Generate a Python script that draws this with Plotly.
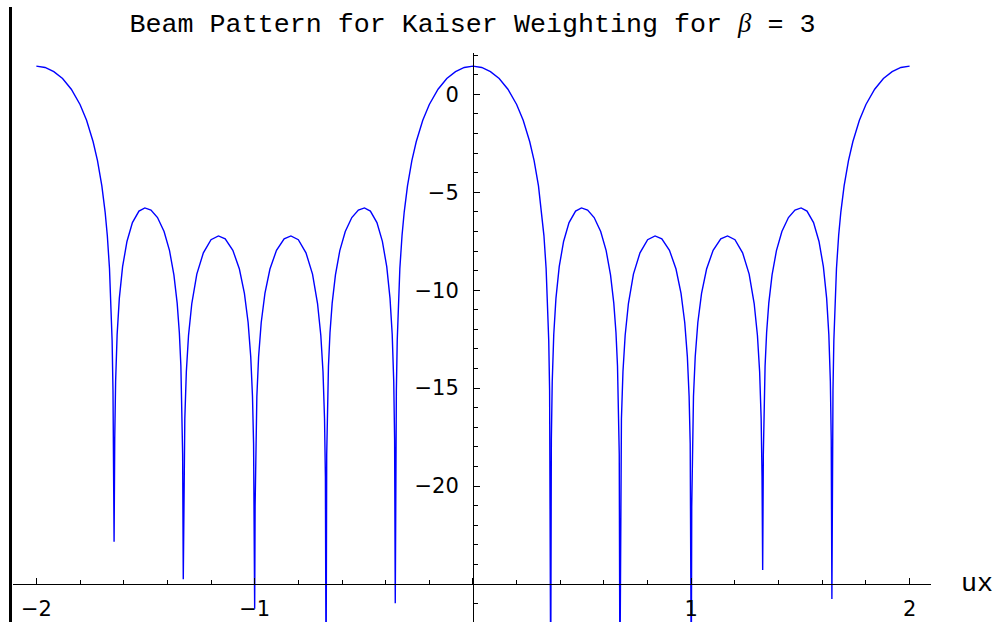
import plotly.graph_objects as go

# Beam pattern samples (ux, level in dB), read lobe by lobe from -2 to 2
ux = [
    # grating lobe at -2
    -2.000, -1.960, -1.920, -1.880, -1.840, -1.800, -1.770, -1.740, -1.720, -1.700,
    -1.685, -1.675, -1.665, -1.658, -1.653, -1.649, -1.646, -1.644,
    # sidelobe between -1.644 and -1.327
    -1.641, -1.637, -1.630, -1.620, -1.605, -1.585, -1.560, -1.530, -1.503, -1.475,
    -1.445, -1.415, -1.390, -1.370, -1.355, -1.345, -1.338, -1.333, -1.330, -1.327,
    # sidelobe between -1.327 and -1
    -1.324, -1.320, -1.313, -1.303, -1.288, -1.265, -1.235, -1.200, -1.166, -1.135,
    -1.100, -1.070, -1.047, -1.030, -1.018, -1.010, -1.005, -1.002, -1.000,
    # sidelobe between -1 and -0.673
    -0.998, -0.995, -0.990, -0.982, -0.970, -0.953, -0.930, -0.900, -0.865, -0.834,
    -0.800, -0.765, -0.735, -0.712, -0.697, -0.687, -0.680, -0.676, -0.673,
    # sidelobe between -0.673 and -0.356
    -0.670, -0.667, -0.662, -0.655, -0.645, -0.630, -0.610, -0.585, -0.555, -0.525,
    -0.497, -0.470, -0.440, -0.415, -0.395, -0.380, -0.370, -0.363, -0.359, -0.356,
    # main lobe
    -0.354, -0.351, -0.347, -0.342, -0.335, -0.325, -0.315, -0.300, -0.280, -0.260,
    -0.230, -0.200, -0.160, -0.120, -0.080, -0.040, 0.000,
    0.040, 0.080, 0.120, 0.160, 0.200, 0.230, 0.260, 0.280, 0.300, 0.315,
    0.325, 0.335, 0.342, 0.347, 0.351, 0.354, 0.356,
    # sidelobe between 0.356 and 0.673
    0.359, 0.363, 0.370, 0.380, 0.395, 0.415, 0.440, 0.470, 0.497, 0.525,
    0.555, 0.585, 0.610, 0.630, 0.645, 0.655, 0.662, 0.667, 0.670, 0.673,
    # sidelobe between 0.673 and 1
    0.676, 0.680, 0.687, 0.697, 0.712, 0.735, 0.765, 0.800, 0.834, 0.865,
    0.900, 0.930, 0.953, 0.970, 0.982, 0.990, 0.995, 0.998, 1.000,
    # sidelobe between 1 and 1.327
    1.002, 1.005, 1.010, 1.018, 1.030, 1.047, 1.070, 1.100, 1.135, 1.166,
    1.200, 1.235, 1.265, 1.288, 1.303, 1.313, 1.320, 1.324, 1.327,
    # sidelobe between 1.327 and 1.644
    1.330, 1.333, 1.338, 1.345, 1.355, 1.370, 1.390, 1.415, 1.445, 1.475,
    1.503, 1.530, 1.560, 1.585, 1.605, 1.620, 1.630, 1.637, 1.641, 1.644,
    # grating lobe at +2
    1.646, 1.649, 1.653, 1.658, 1.665, 1.675, 1.685, 1.700, 1.720, 1.740,
    1.770, 1.800, 1.840, 1.880, 1.920, 1.960, 2.000,
]

level_db = [
    1.44, 1.37, 1.16, 0.81, 0.26, -0.52, -1.32, -2.42, -3.38, -4.67,
    -6.01, -7.21, -8.89, -10.65, -12.57, -15.12, -19.05, -22.84,
    -17.61, -14.67, -12.26, -10.42, -8.80, -7.51, -6.55, -5.96, -5.80, -5.91,
    -6.29, -7.00, -7.98, -9.22, -10.66, -12.17, -13.87, -15.98, -18.38, -24.76,
    -19.51, -16.56, -14.16, -12.31, -10.68, -9.18, -8.09, -7.42, -7.23, -7.38,
    -7.96, -8.92, -10.16, -11.65, -13.40, -15.43, -17.83, -21.04, -26.26,
    -21.04, -17.83, -15.43, -13.40, -11.65, -10.16, -8.92, -7.96, -7.38, -7.23,
    -7.42, -8.09, -9.18, -10.68, -12.31, -14.16, -16.56, -19.51, -30.00,
    -18.38, -15.98, -13.87, -12.17, -10.66, -9.22, -7.98, -7.00, -6.29, -5.91,
    -5.80, -5.96, -6.55, -7.51, -8.80, -10.42, -12.26, -14.67, -17.61, -25.98,
    -19.05, -15.12, -12.57, -10.65, -8.89, -7.21, -6.01, -4.67, -3.38, -2.42,
    -1.32, -0.52, 0.26, 0.81, 1.16, 1.37, 1.44,
    1.37, 1.16, 0.81, 0.26, -0.52, -1.32, -2.42, -3.38, -4.67, -6.01,
    -7.21, -8.89, -10.65, -12.57, -15.12, -19.05, -30.00,
    -17.61, -14.67, -12.26, -10.42, -8.80, -7.51, -6.55, -5.96, -5.80, -5.91,
    -6.29, -7.00, -7.98, -9.22, -10.66, -12.17, -13.87, -15.98, -18.38, -30.00,
    -19.51, -16.56, -14.16, -12.31, -10.68, -9.18, -8.09, -7.42, -7.23, -7.38,
    -7.96, -8.92, -10.16, -11.65, -13.40, -15.43, -17.83, -21.04, -30.00,
    -21.04, -17.83, -15.43, -13.40, -11.65, -10.16, -8.92, -7.96, -7.38, -7.23,
    -7.42, -8.09, -9.18, -10.68, -12.31, -14.16, -16.56, -19.51, -24.29,
    -18.38, -15.98, -13.87, -12.17, -10.66, -9.22, -7.98, -7.00, -6.29, -5.91,
    -5.80, -5.96, -6.55, -7.51, -8.80, -10.42, -12.26, -14.67, -17.61, -25.77,
    -19.05, -15.12, -12.57, -10.65, -8.89, -7.21, -6.01, -4.67, -3.38, -2.42,
    -1.32, -0.52, 0.26, 0.81, 1.16, 1.37, 1.44,
]

# Axis ticks
x_major = [-2, -1, 0, 1, 2]
x_major_text = ["\u22122", "\u22121", "", "1", "2"]
x_minor = [-1.8, -1.6, -1.4, -1.2, -0.8, -0.6, -0.4, -0.2,
           0.2, 0.4, 0.6, 0.8, 1.2, 1.4, 1.6, 1.8]
y_major = [0, -5, -10, -15, -20, -25]
y_major_text = ["0", "\u22125", "\u221210", "\u221215", "\u221220", ""]
y_minor = [2, 1, -1, -2, -3, -4, -6, -7, -8, -9, -11, -12, -13, -14,
           -16, -17, -18, -19, -21, -22, -23, -24, -26]

W, H = 994, 622
X_RANGE = [-2.107, 2.098]
Y_RANGE = [-26.94, 2.11]
X_AXIS_AT = -25.0   # the horizontal axis crosses here
Y_AXIS_AT = 0.0     # the vertical axis crosses here

x_axis_pos = (X_AXIS_AT - Y_RANGE[0]) / (Y_RANGE[1] - Y_RANGE[0])
y_axis_pos = (Y_AXIS_AT - X_RANGE[0]) / (X_RANGE[1] - X_RANGE[0])

mono = "Liberation Mono, Courier New, monospace"
sans = "DejaVu Sans, Arial, sans-serif"

fig = go.Figure(
    go.Scatter(
        x=ux, y=level_db, mode="lines",
        line=dict(color="#0000ff", width=1.4),
        hoverinfo="skip", showlegend=False,
    )
)

axis_common = dict(
    showline=True, linecolor="black", linewidth=1,
    ticks="inside", ticklen=6, tickwidth=1, tickcolor="black",
    tickmode="array", showgrid=False, zeroline=False, automargin=False,
    tickfont=dict(family=sans, size=21, color="black"),
)

fig.update_layout(
    width=W, height=H, autosize=False,
    margin=dict(l=13, r=63, t=53, b=0, pad=0),
    paper_bgcolor="white", plot_bgcolor="white",
    title=dict(
        text="Beam Pattern for Kaiser Weighting for "
             "<span style=\"font-family:'Liberation Serif',serif\"><i>\u03b2</i></span> = 3",
        x=472.5 / W, xanchor="center", xref="container",
        y=1 - 23 / H, yanchor="middle", yref="container",
        font=dict(family=mono, size=26.7, color="black"),
    ),
    xaxis=dict(
        axis_common, range=X_RANGE, anchor="free", position=x_axis_pos,
        tickvals=x_major, ticktext=x_major_text, ticklabelstandoff=6,
        minor=dict(tickmode="array", tickvals=x_minor, ticks="inside",
                   ticklen=4, tickwidth=1, tickcolor="black", showgrid=False),
    ),
    yaxis=dict(
        axis_common, range=Y_RANGE, anchor="free", position=y_axis_pos,
        tickvals=y_major, ticktext=y_major_text, ticklabelstandoff=10,
        minor=dict(tickmode="array", tickvals=y_minor, ticks="inside",
                   ticklen=4, tickwidth=1, tickcolor="black", showgrid=False),
    ),
    annotations=[
        dict(text="ux", xref="paper", yref="paper",
             x=(959 - 13) / 918, y=x_axis_pos,
             xanchor="left", yanchor="middle", showarrow=False,
             font=dict(family=mono, size=26.7, color="black")),
    ],
    shapes=[
        # heavy frame rule along the left edge
        dict(type="line", xref="paper", yref="paper",
             x0=(10.5 - 13) / 918, x1=(10.5 - 13) / 918,
             y0=-0.02, y1=1 + (53 - 7) / 569,
             line=dict(color="black", width=3)),
    ],
)

fig.write_html("out.html")
